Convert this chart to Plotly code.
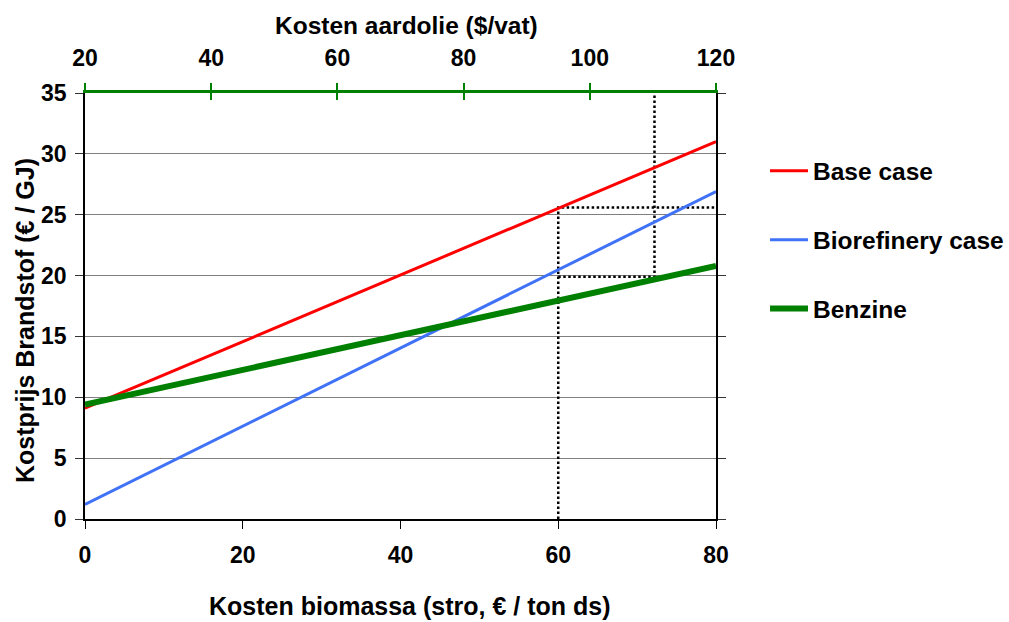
import plotly.graph_objects as go

# Data
biomass_cost = [0, 80]              # € / ton ds (bottom axis)
base_case = [9.1, 31.0]             # €/GJ
biorefinery_case = [1.2, 26.9]      # €/GJ
oil_cost = [20, 120]                # $/vat (top axis)
benzine = [9.4, 20.8]               # €/GJ

# Guide (dotted) lines
guide1_x = [60, 60, 80]
guide1_y = [0, 25.6, 25.6]
guide2_x = [60, 72.2, 72.2]
guide2_y = [19.9, 19.9, 35]

bottom_ticks = [0, 20, 40, 60, 80]
top_ticks = [20, 40, 60, 80, 100, 120]
y_ticks = [0, 5, 10, 15, 20, 25, 30, 35]

FONT = "Liberation Sans, Arial, sans-serif"

fig = go.Figure()

dot = dict(color="black", width=2.5, dash="2.5px,2.5px")
fig.add_trace(go.Scatter(x=guide1_x, y=guide1_y, mode="lines", line=dot,
                         showlegend=False, hoverinfo="skip"))
fig.add_trace(go.Scatter(x=guide2_x, y=guide2_y, mode="lines", line=dot,
                         showlegend=False, hoverinfo="skip"))

fig.add_trace(go.Scatter(x=biomass_cost, y=base_case, mode="lines",
                         name="Base case", legendgroup="a",
                         line=dict(color="#ff0000", width=3)))
fig.add_trace(go.Scatter(x=biomass_cost, y=biorefinery_case, mode="lines",
                         name="Biorefinery case", legendgroup="b",
                         line=dict(color="#3f72f6", width=3)))
fig.add_trace(go.Scatter(x=oil_cost, y=benzine, mode="lines",
                         name="Benzine", legendgroup="c", xaxis="x2",
                         line=dict(color="#008000", width=6)))

title_font = dict(size=25, weight="bold")

fig.update_layout(
    width=1009, height=622,
    margin=dict(l=85, r=293, t=93, b=103, autoexpand=False),
    paper_bgcolor="white", plot_bgcolor="white",
    font=dict(family=FONT, size=23, color="black", weight="bold"),
    xaxis=dict(
        range=[0, 80], tickvals=bottom_ticks, showgrid=False, zeroline=False,
        automargin=False,
        showline=True, linecolor="black", linewidth=1.5,
        ticks="outside", ticklen=8, tickcolor="black", tickwidth=1,
        ticklabelstandoff=7,
    ),
    xaxis2=dict(
        range=[20, 120], tickvals=top_ticks, overlaying="x", side="top",
        anchor="y", showgrid=False, zeroline=False, automargin=False,
        showline=True, linecolor="#008000", linewidth=2.5,
        ticks="outside", ticklen=7, tickcolor="#008000", tickwidth=1.5,
        ticklabelstandoff=8,
    ),
    xaxis3=dict(
        range=[20, 120], tickvals=top_ticks, overlaying="x", side="top",
        anchor="y", showgrid=False, zeroline=False, showline=False,
        showticklabels=False, automargin=False,
        ticks="inside", ticklen=7, tickcolor="#008000", tickwidth=1.5,
    ),
    yaxis=dict(
        range=[0, 35], tickvals=y_ticks, showgrid=True, gridcolor="#7f7f7f",
        gridwidth=1, zeroline=False, automargin=False,
        showline=True, linecolor="black", linewidth=1.5, mirror="ticks",
        ticks="outside", ticklen=8, tickcolor="#333333", tickwidth=1,
        ticklabelstandoff=4,
    ),
    annotations=[
        dict(text="Kostprijs Brandstof (€ / GJ)", textangle=-90,
             xref="paper", yref="paper", x=-0.0951, y=0.467,
             xanchor="center", yanchor="middle", showarrow=False,
             font=title_font),
        dict(text="Kosten biomassa (stro, € / ton ds)",
             xref="paper", yref="paper", x=0.515, y=-0.204,
             xanchor="center", yanchor="middle", showarrow=False,
             font=title_font),
        dict(text="Kosten aardolie ($/vat)",
             xref="paper", yref="paper", x=0.510, y=1.1573,
             xanchor="center", yanchor="middle", showarrow=False,
             font=dict(size=24.5, weight="bold")),
    ],
    legend=dict(
        x=1.0777, y=0.87, xanchor="left", yanchor="top",
        font=dict(size=24.5, weight="bold"),
        traceorder="grouped", tracegroupgap=34, itemwidth=38,
        bgcolor="rgba(0,0,0,0)",
    ),
)

# dummy trace to make xaxis3 show
fig.add_trace(go.Scatter(x=[None], y=[None], xaxis="x3", showlegend=False,
                         hoverinfo="skip"))

fig.write_html("out.html")
